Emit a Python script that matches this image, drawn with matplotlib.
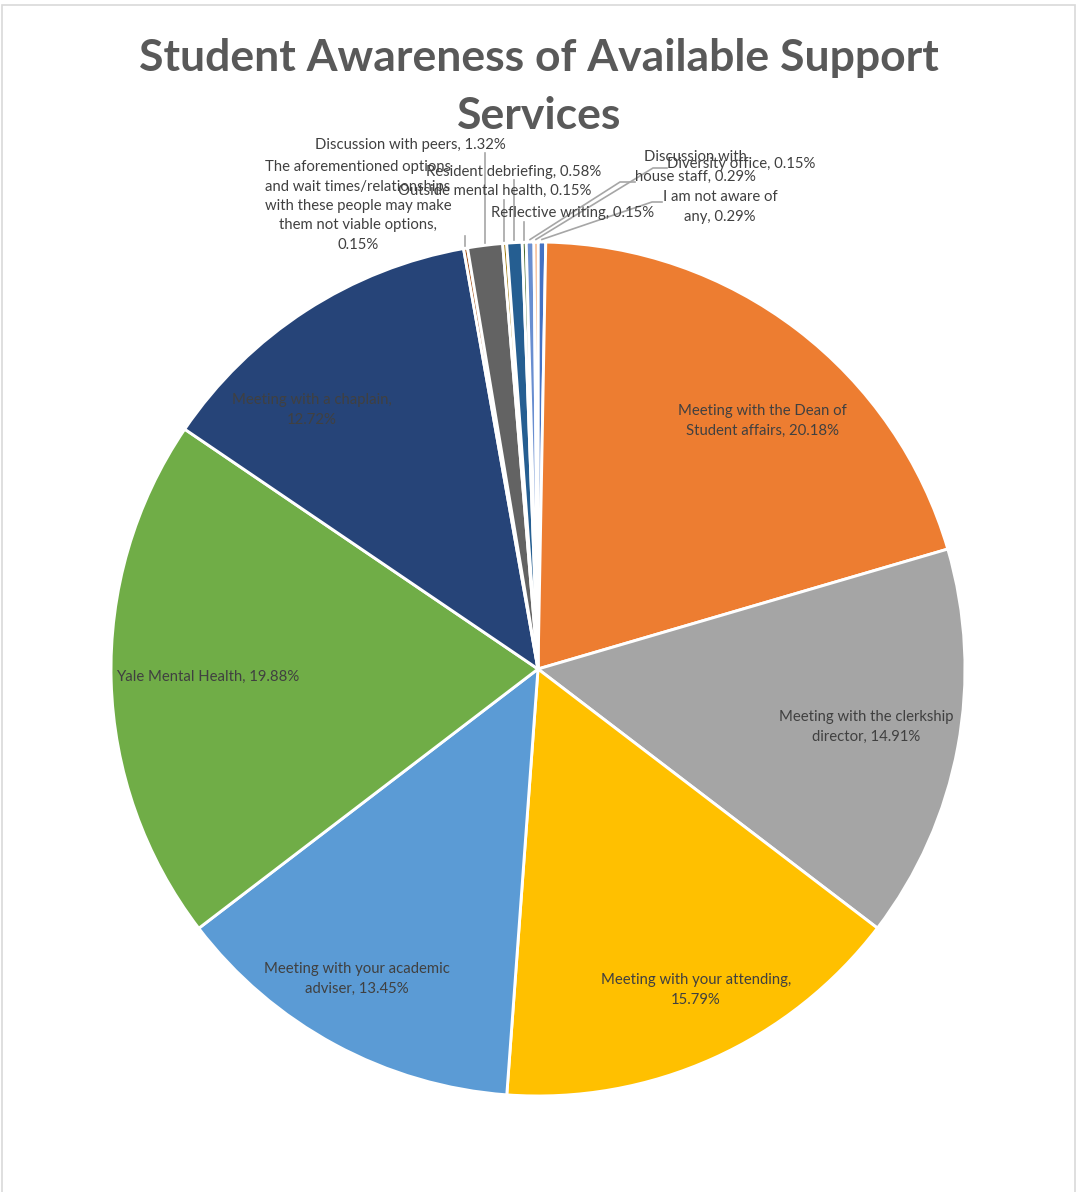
import matplotlib.pyplot as plt
import numpy as np
from matplotlib.patches import Rectangle

W, H = 1078, 1192

# survey answers, clockwise from 12 o'clock
labels = [
    "I am not aware of\nany",
    "Meeting with the Dean of\nStudent affairs",
    "Meeting with the clerkship\ndirector",
    "Meeting with your attending,\n",
    "Meeting with your academic\nadviser",
    "Yale Mental Health",
    "Meeting with a chaplain,\n",
    "The aforementioned options\nand wait times/relationships\nwith these people may make\nthem not viable options,\n",
    "Discussion with peers",
    "Outside mental health",
    "Resident debriefing",
    "Reflective writing",
    "Discussion with\nhouse staff",
    "Diversity office",
]
shares = [0.29, 20.18, 14.91, 15.79, 13.45, 19.88, 12.72,
          0.15, 1.32, 0.15, 0.58, 0.15, 0.29, 0.15]
colors = ["#4472C4", "#ED7D31", "#A5A5A5", "#FFC000", "#5B9BD5", "#70AD47",
          "#264478", "#9E480E", "#636363", "#997300", "#255E91", "#43682B",
          "#698ED0", "#F1975A"]

# label centres in pixels (x, y from top)
label_pos = [(720, 207), (762, 421), (866, 727), (696, 990), (357, 979),
             (208, 677), (312, 410), (358, 206), (410, 145), (495, 191),
             (514, 172), (573, 213), (695, 167), (741, 164)]
# elbow leaders for the small slices on the right: text end, bend
leaders = {
    0: [(662, 202), (652, 202)],
    12: [(635, 182), (620, 182)],
    13: [(667, 168), (653, 168)],
}
vertical_from = {7: 236, 8: 153, 9: 200, 10: 180, 11: 222}

cx, cy, R = 538, 669, 427


def fy(py):
    return H - py


plt.rcParams['font.family'] = ['Lato', 'DejaVu Sans']
fig = plt.figure(figsize=(W / 100, H / 100), dpi=100)
ax = fig.add_axes([0, 0, 1, 1])

fig.patches.append(Rectangle((2 / W, -0.05), (W - 5) / W, 1.05 - 5 / H,
                             transform=fig.transFigure, fill=False,
                             edgecolor="#D9D9D9", linewidth=1.2))

wedges, _ = ax.pie(shares, colors=colors, startangle=90, counterclock=False,
                   center=(cx, fy(cy)), radius=R,
                   wedgeprops=dict(edgecolor="white", linewidth=2.1))
ax.set_xlim(0, W)
ax.set_ylim(0, H)
ax.set_aspect('equal')
ax.axis('off')

txt_color = "#404040"
for i, (lab, val) in enumerate(zip(labels, shares)):
    if lab.endswith("\n"):
        s = f"{lab}{val:.2f}%"
    else:
        s = f"{lab}, {val:.2f}%"
    x, y = label_pos[i]
    ax.text(x, fy(y), s, ha="center", va="center", fontsize=10.7,
            color=txt_color, linespacing=1.5)

# leader lines from each small wedge's rim
for i, w in enumerate(wedges):
    if i not in leaders and i not in vertical_from:
        continue
    mid = np.deg2rad((w.theta1 + w.theta2) / 2)
    ex = cx + R * 1.006 * np.cos(mid)
    ey = fy(cy) + R * 1.006 * np.sin(mid)
    if i in vertical_from:
        ax.plot([ex, ex], [ey, fy(vertical_from[i])], color="#A6A6A6", lw=1.2)
    else:
        (x0, y0), (x1, y1) = leaders[i]
        ax.plot([x0, x1, ex], [fy(y0), fy(y1), ey], color="#A6A6A6", lw=1.2)

ax.text(W / 2, fy(87), "Student Awareness of Available Support\nServices",
        ha="center", va="center", fontsize=32, fontweight="bold",
        color="#595959", linespacing=1.52)

fig.savefig("out.png", dpi=100)
